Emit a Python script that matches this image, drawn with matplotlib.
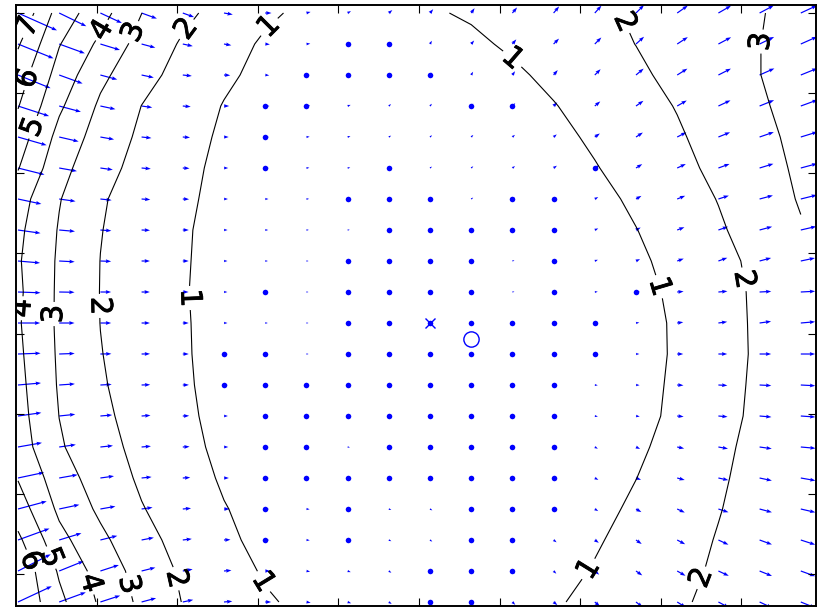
import numpy as np
import matplotlib
matplotlib.use("Agg")
import matplotlib.pyplot as plt
import matplotlib.patheffects as pe

# 20 x 20 grid, row 0 is the top row, column 0 the left column
n_cols = 20
n_rows = 20

# length of the vector at each grid point (rows top -> bottom)
speed = [
    [7.9, 5.58, 4.38, 3.01, 2.22, 1.65, 1.16, 0.8, 0.72, 0.85, 0.92, 1.09, 1.34, 1.59, 1.83, 2.1, 2.4, 2.7, 2.95, 3.3],
    [7.1, 5.05, 3.79, 2.63, 1.89, 1.38, 0.87, 0.72, 0.6, 0.6, 0.7, 0.85, 1.12, 1.41, 1.71, 2.01, 2.34, 2.66, 2.99, 3.3],
    [6.5, 4.61, 3.23, 2.31, 1.68, 1.16, 0.75, 0.6, 0.5, 0.5, 0.55, 0.7, 0.86, 1.19, 1.52, 1.85, 2.22, 2.6, 2.99, 3.3],
    [6.05, 4.16, 2.84, 1.99, 1.47, 0.96, 0.8, 0.7, 0.6, 0.55, 0.55, 0.6, 0.75, 0.96, 1.32, 1.68, 2.04, 2.47, 2.89, 3.32],
    [5.51, 3.69, 2.57, 1.83, 1.34, 0.86, 0.7, 0.6, 0.55, 0.5, 0.5, 0.55, 0.62, 0.76, 1.14, 1.52, 1.9, 2.33, 2.78, 3.22],
    [5.05, 3.33, 2.32, 1.7, 1.24, 0.78, 0.65, 0.55, 0.5, 0.45, 0.45, 0.5, 0.6, 0.75, 0.95, 1.36, 1.76, 2.2, 2.67, 3.15],
    [4.42, 3.05, 2.09, 1.61, 1.17, 0.73, 0.6, 0.5, 0.45, 0.42, 0.42, 0.45, 0.5, 0.6, 0.73, 1.16, 1.59, 2.03, 2.55, 3.07],
    [4.21, 2.93, 2.03, 1.56, 1.11, 0.66, 0.55, 0.45, 0.4, 0.38, 0.38, 0.4, 0.45, 0.55, 0.7, 0.98, 1.43, 1.89, 2.4, 2.93],
    [4.1, 2.87, 1.99, 1.54, 1.09, 0.64, 0.5, 0.4, 0.35, 0.33, 0.33, 0.35, 0.4, 0.5, 0.62, 0.83, 1.29, 1.75, 2.21, 2.67],
    [4.17, 2.84, 1.98, 1.52, 1.07, 0.62, 0.48, 0.38, 0.32, 0.3, 0.3, 0.32, 0.38, 0.45, 0.55, 0.7, 1.19, 1.67, 2.16, 2.65],
    [4.1, 2.84, 1.99, 1.54, 1.09, 0.64, 0.48, 0.38, 0.32, 0.3, 0.3, 0.32, 0.36, 0.42, 0.5, 0.62, 1.13, 1.64, 2.15, 2.66],
    [4.18, 2.87, 2.03, 1.56, 1.1, 0.65, 0.5, 0.4, 0.34, 0.32, 0.32, 0.34, 0.38, 0.44, 0.52, 0.62, 1.12, 1.63, 2.14, 2.65],
    [4.27, 2.91, 2.09, 1.59, 1.13, 0.67, 0.52, 0.42, 0.36, 0.34, 0.34, 0.36, 0.4, 0.46, 0.55, 0.66, 1.16, 1.66, 2.17, 2.67],
    [4.36, 2.99, 2.19, 1.65, 1.18, 0.72, 0.55, 0.45, 0.4, 0.38, 0.38, 0.4, 0.44, 0.5, 0.58, 0.7, 1.2, 1.7, 2.2, 2.7],
    [4.5, 3.11, 2.34, 1.73, 1.26, 0.79, 0.6, 0.5, 0.44, 0.42, 0.42, 0.44, 0.48, 0.55, 0.65, 0.84, 1.32, 1.8, 2.27, 2.75],
    [4.95, 3.46, 2.54, 1.86, 1.38, 0.9, 0.65, 0.55, 0.5, 0.46, 0.46, 0.48, 0.52, 0.6, 0.75, 0.99, 1.44, 1.88, 2.32, 2.76],
    [5.5, 3.81, 2.82, 2.05, 1.53, 1.04, 0.7, 0.6, 0.55, 0.5, 0.5, 0.52, 0.58, 0.65, 0.74, 1.15, 1.55, 1.96, 2.36, 2.76],
    [6.2, 4.3, 3.22, 2.31, 1.68, 1.2, 0.72, 0.62, 0.56, 0.52, 0.52, 0.55, 0.6, 0.7, 0.91, 1.29, 1.67, 2.05, 2.43, 2.8],
    [6.8, 4.88, 3.59, 2.62, 1.85, 1.38, 0.91, 0.7, 0.62, 0.58, 0.58, 0.6, 0.65, 0.71, 1.06, 1.42, 1.77, 2.12, 2.47, 2.82],
    [6.9, 5.24, 3.85, 2.78, 1.97, 1.54, 1.1, 0.8, 0.7, 0.65, 0.65, 0.68, 0.75, 0.9, 1.23, 1.56, 1.88, 2.21, 2.54, 2.87],
]

# direction of each vector in degrees (0 = right, 90 = up)
angle = [
    [-24, -26, -25, -20, -20, -10, 0, 15, 30, 40, 50, 55, 50, 50, 48, 45, 35, 30, 28, 25],
    [-22, -20, -17, -15, -12, -10, -5, 5, 25, 40, 60, 50, 50, 45, 45, 42, 33, 28, 26, 24],
    [-22, -20, -15, -12, -6, -3, -5, 0, 20, 40, 55, 60, 55, 50, 45, 40, 32, 27, 24, 22],
    [-18, -15, -12, -8, -5, 0, 0, 10, 20, 40, 50, 50, 45, 45, 40, 35, 30, 25, 22, 20],
    [-16, -13, -10, -6, -4, 0, 0, 5, 15, 30, 40, 45, 40, 40, 35, 33, 27, 22, 19, 17],
    [-14, -10, -8, -5, -3, 0, 0, 5, 10, 25, 35, 40, 35, 35, 32, 32, 25, 20, 17, 15],
    [-12, -8, -6, -4, -2, 0, 0, 3, 8, 20, 30, 35, 32, 30, 30, 30, 22, 18, 15, 14],
    [-8, -5, -4, -2, 0, 0, 0, 2, 5, 15, 25, 30, 28, 25, 25, 28, 21, 19, 15, 13],
    [-5, -3, -2, 0, 0, 0, 0, 0, 3, 10, 15, 20, 20, 20, 22, 25, 20, 20, 15, 12],
    [-2, -1, 0, 0, 0, 0, 0, 0, 0, 5, 8, 10, 10, 8, 6, 5, 5, 5, 3, 3],
    [0, 0, 0, 0, 0, 0, 0, 0, 0, 0, 0, 3, 5, 5, 5, 8, 8, 8, 8, 5],
    [2, 2, 1, 1, 0, 0, 0, 0, 0, 0, 0, 0, 0, 0, 0, 0, 0, 0, 0, 0],
    [5, 4, 3, 2, 1, 0, 0, 0, -3, -5, -8, -10, -10, -8, -5, -3, -3, -3, -3, -3],
    [8, 6, 5, 4, 2, 0, 0, -2, -5, -10, -15, -18, -18, -15, -10, -8, -6, -5, -5, -4],
    [10, 8, 6, 5, 3, 0, 0, -3, -8, -15, -20, -25, -28, -30, -30, -25, -12, -10, -8, -5],
    [12, 10, 8, 6, 4, 0, 0, -5, -10, -20, -25, -30, -32, -32, -28, -20, -15, -12, -12, -10],
    [15, 12, 10, 8, 5, 0, 0, -5, -10, -20, -30, -35, -38, -35, -32, -30, -25, -18, -15, -13],
    [20, 17, 14, 11, 7, 3, 0, -5, -15, -25, -35, -40, -40, -38, -35, -35, -28, -25, -20, -18],
    [27, 22, 18, 14, 10, 5, 0, -10, -20, -35, -40, -45, -45, -45, -40, -35, -30, -25, -22, -20],
    [25, 20, 18, 15, 12, 5, 0, -10, -20, -35, -40, -45, -45, -40, -40, -38, -32, -28, -25, -22],
]

# columns carrying a dot, for each row (top -> bottom)
dot_cols = [
    [],
    [8, 9],
    [7, 8, 9, 10],
    [6, 7, 11, 12],
    [6],
    [6, 9, 14],
    [8, 9, 10, 12, 13],
    [9, 10, 11, 12, 13],
    [8, 9, 10, 11, 13],
    [6, 8, 9, 10, 11, 13, 15],
    [8, 9, 10, 11, 12, 13, 14],
    [5, 6, 8, 9, 10, 11, 12, 13, 14],
    [5, 6, 7, 8, 9, 10, 11, 12, 13],
    [6, 7, 8, 9, 10, 11, 12, 13],
    [6, 7, 9, 10, 11, 12, 13],
    [6, 7, 8, 9, 10, 11, 12, 13],
    [6, 8, 11, 12, 13],
    [6, 8, 11, 12],
    [10, 11, 12],
    [10, 11],
]

# (column, row) of the cross and of the open circle
cross_pt = (10, 10)
circle_pt = (11, 10.5)

levels = [1, 2, 3, 4, 5, 6, 7]

# where the contour labels sit, (column, row)
label_pos = {
    1: [(6.12, 0.48), (4.2, 9.19), (5.95, 18.35), (12.04, 1.42), (15.7, 8.77), (13.93, 18.0)],
    2: [(4.05, 0.48), (1.97, 9.45), (3.79, 18.26), (14.78, 0.26), (17.67, 8.58), (16.53, 18.19)],
    3: [(2.86, 0.65), (0.83, 9.71), (2.65, 18.45), (17.94, 0.9)],
    4: [(2.11, 0.61), (0.05, 9.52), (1.75, 18.39)],
    5: [(0.36, 3.68), (0.78, 17.58)],
    6: [(0.27, 2.13), (0.24, 17.71)],
    7: [(0.41, 0.55)],
}

xs = np.arange(n_cols)
ys = (n_rows - 1) - np.arange(n_rows)
X, Y = np.meshgrid(xs, ys)
S = np.array(speed)
th = np.deg2rad(np.array(angle))
U = S * np.cos(th)
V = S * np.sin(th)
mag = np.hypot(U, V)

fig = plt.figure(figsize=(8.21, 6.09), dpi=100)
ax = fig.add_axes([16 / 821, 3.5 / 609, 800 / 821, 600.7 / 609])

ax.quiver(X, Y, U, V, color='b', pivot='tail', units='width', width=0.0015,
          scale=148, scale_units='width', headwidth=3.2, headlength=4.5,
          headaxislength=4)

# one contour set per level, so each label lands on its own line
for lev in levels:
    cs = ax.contour(X, Y, mag, levels=[lev], colors='k', linewidths=0.8)
    pts = [(c, (n_rows - 1) - r) for c, r in label_pos[lev]]
    texts = ax.clabel(cs, fmt='%d', fontsize=21, inline=True,
                      inline_spacing=3, manual=pts)
    for t in texts:
        t.set_path_effects([pe.withStroke(linewidth=0.6, foreground='k')])

dx, dy = [], []
for r, cols in enumerate(dot_cols):
    for c in cols:
        dx.append(xs[c])
        dy.append(ys[r])
ax.plot(dx, dy, 'o', color='b', ms=4, mew=0)
ax.plot(cross_pt[0], (n_rows - 1) - cross_pt[1], 'bx', ms=7.5, mew=1)
ax.plot(circle_pt[0], (n_rows - 1) - circle_pt[1], 'o', mfc='none', mec='b',
        ms=11, mew=1)

ax.set_xlim(-0.0485, 19.369)
ax.set_ylim(-0.113, 19.265)
ax.set_xticks(1.917 + 1.954 * np.arange(9))
ax.set_yticks(0.903 + 2.585 * np.arange(8))
ax.tick_params(direction='in', top=True, right=True, length=6, width=0.8,
               labelbottom=False, labelleft=False)
for sp in ax.spines.values():
    sp.set_linewidth(1.4)

fig.savefig('out.png', dpi=100)
